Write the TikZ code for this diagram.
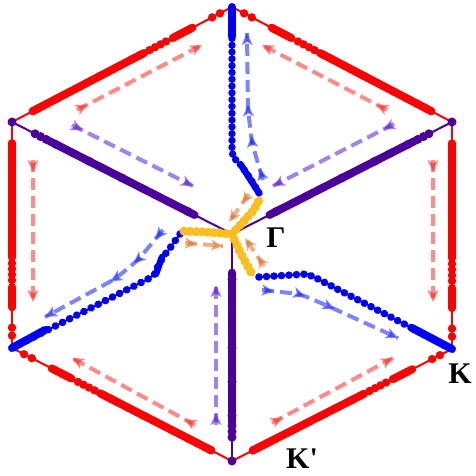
\documentclass[tikz,border=0pt]{standalone}
\usepackage{fontspec}
\setmainfont{Liberation Serif}
\usetikzlibrary{calc,arrows.meta,decorations.markings}
\definecolor{hred}{RGB}{255,0,0}
\definecolor{hblue}{RGB}{0,0,250}
\definecolor{hpur}{RGB}{75,0,155}
\definecolor{hyel}{RGB}{250,190,30}
\definecolor{dred}{RGB}{255,60,60}
\definecolor{dpur}{RGB}{100,50,215}
\definecolor{dblue}{RGB}{40,50,255}
\definecolor{dorg}{RGB}{225,125,55}
\tikzset{
  redthin/.style={draw=hred,line width=2pt},
  redseg/.style={draw=hred,line width=8pt,line cap=round},
  purthin/.style={draw=hpur,line width=2pt},
  purseg/.style={draw=hpur,line width=8pt,line cap=round},
  bluethin/.style={draw=hblue,line width=2pt},
  blueseg/.style={draw=hblue,line width=8pt,line cap=round},
  yelthin/.style={draw=hyel,line width=3pt},
  beads/.style n args={3}{postaction={decorate,decoration={markings,mark=between positions 0 and 1 step #2 with {\fill[#1] (0,0) circle[radius=#3];}}}},
  dasharr/.style={color=#1,line width=4pt,dash pattern=on 12pt off 6pt,opacity=0.6},
  am/.style={postaction={decorate,decoration={markings,mark=at position #1 with {\arrow{Stealth[length=12pt,width=11pt,inset=3pt]}}}}},
  lab/.style={font=\fontsize{30}{30}\selectfont\bfseries,inner sep=0pt}
}
\begin{document}
\begin{tikzpicture}[x=1pt,y=-1pt]
\useasboundingbox (0,0) rectangle (476,476);
\coordinate (C) at (232,234);
\coordinate (T) at (232,7);
\coordinate (UR) at (452,122);
\coordinate (LR) at (452,349);
\coordinate (Bo) at (232,461);
\coordinate (LL) at (12,348);
\coordinate (UL) at (12,122);
% red hexagon edges (beaded)
\foreach \va/\vb in {T/UL,T/UR,LR/UR,LR/Bo,LL/Bo,LL/UL}{
  \draw[redthin] (\va) -- (\vb);
  \draw[redseg] ($(\va)!0.18!(\vb)$) -- ($(\va)!0.27!(\vb)$);
  \draw[redseg] ($(\va)!0.40!(\vb)$) -- ($(\va)!0.905!(\vb)$);
  \foreach \t in {0.055,0.09,0.30,0.325,0.35,0.375,0.42,0.45,0.6,0.8,0.84,0.88,0.905}
    \fill[hred] ($(\va)!\t!(\vb)$) circle[radius=4.2pt];
}
% purple spokes
\foreach \vb in {UL,UR,Bo}{
  \draw[purthin] (C) -- (\vb);
  \draw[purseg] ($(C)!0.17!(\vb)$) -- ($(C)!0.83!(\vb)$);
  \foreach \t in {0.2,0.5,0.65,0.8,0.845,0.87,0.895}
    \fill[hpur] ($(C)!\t!(\vb)$) circle[radius=4.5pt];
  \fill[hpur] (\vb) circle[radius=4.5pt];
}
% blue paths
\coordinate (b1s) at (259,193);
\coordinate (b2s) at (180,234);
\coordinate (b3s) at (259,277);
\draw[bluethin,beads={hblue}{6.8pt}{3.7pt}] (b1s) -- (250,178) -- (240,164) -- (233,157) -- (232,148) -- (T);
\draw[blueseg] (T) -- (232,36);
\draw[blueseg,line width=6.5pt] (b1s) -- (241,165);
\draw[bluethin,beads={hblue}{8pt}{3.8pt}] (b2s) -- (170,248) -- (163,257) -- (158,266) -- (156,273) -- (148,279) -- (LL);
\draw[blueseg] (LL) -- (45,330);
\draw[blueseg,line width=6.5pt] (162,257) -- (156,274);
\draw[bluethin,beads={hblue}{7.5pt}{3.8pt}] (b3s) -- (307,274) -- (318,279) -- (LR);
\draw[blueseg] (LR) -- (412,328);
% yellow paths
\coordinate (y1) at (261,197);
\coordinate (y2) at (182,231);
\coordinate (y3) at (253,276);
\draw[yelthin,beads={hyel}{6pt}{4.6pt}] (C) -- (243,222) -- (253,211) -- (y1);
\draw[yelthin,beads={hyel}{6pt}{4.6pt}] (C) -- (205,232) -- (y2);
\draw[yelthin,beads={hyel}{6pt}{4.6pt}] (C) -- (240,252) -- (247,265) -- (y3);
\fill[hyel] (C) circle[radius=4pt];
% red dashed arrows (purple vertex -> blue vertex)
\coordinate (r1a) at (387,110); \coordinate (r1b) at (262,45);
\coordinate (r2a) at (433,160); \coordinate (r2b) at (433,302);
\coordinate (r3a) at (272,423); \coordinate (r3b) at (393,358);
\coordinate (r4a) at (195,425); \coordinate (r4b) at (72,358);
\coordinate (r5a) at (33,160);  \coordinate (r5b) at (33,302);
\coordinate (r6a) at (77,110);  \coordinate (r6b) at (202,45);
\foreach \va/\vb in {r1a/r1b,r2a/r2b,r3a/r3b,r4a/r4b,r5a/r5b,r6a/r6b}
  \draw[dasharr=dred,am=12pt,am=1] (\va) -- (\vb);
% purple dashed arrows
\coordinate (p1a) at (72,125);  \coordinate (p1b) at (193,186);
\coordinate (p2a) at (394,124); \coordinate (p2b) at (273,186);
\coordinate (p3a) at (216,425); \coordinate (p3b) at (216,285);
\foreach \va/\vb in {p1a/p1b,p2a/p2b,p3a/p3b}
  \draw[dasharr=dpur,am=12pt,am=1] (\va) -- (\vb);
% blue dashed arrows
\coordinate (q1a) at (263,180); \coordinate (q1b) at (247,33);
\coordinate (q2a) at (163,230); \coordinate (q2b) at (45,317);
\coordinate (q3a) at (262,290); \coordinate (q3b) at (398,338);
\draw[dasharr=dblue,rounded corners=8pt,am=12pt,am=0.31,am=0.52,am=1] (q1a) -- (252,143) -- (248,110) -- (q1b);
\draw[dasharr=dblue,rounded corners=8pt,am=12pt,am=0.3,am=0.5,am=1] (q2a) -- (138,260) -- (115,279) -- (q2b);
\draw[dasharr=dblue,rounded corners=8pt,am=12pt,am=0.3,am=0.52,am=1] (q3a) -- (300,294) -- (328,306) -- (q3b);
% orange dashed arrows
\coordinate (o1a) at (249,194); \coordinate (o1b) at (229,222);
\coordinate (o2a) at (185,243); \coordinate (o2b) at (223,246);
\coordinate (o3a) at (264,266); \coordinate (o3b) at (245,238);
\foreach \va/\vb in {o1a/o1b,o2a/o2b,o3a/o3b}
  \draw[dasharr=dorg,am=12pt,am=1] (\va) -- (\vb);
% labels
\node[lab] (gam) at (276,238) {Γ};
\node[lab] (kk) at (460,374) {K};
\node[lab] (kp) at (302,459) {K\textquotesingle};
\end{tikzpicture}
\end{document}
